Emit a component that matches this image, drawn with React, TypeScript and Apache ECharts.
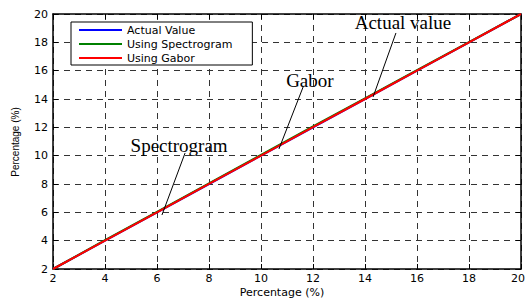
import React, { useEffect, useRef } from "react";
import * as echarts from "echarts";

const percentages = [2, 4, 6, 8, 10, 12, 14, 16, 18, 20];
const actualValue = [2, 4, 6, 8, 10, 12, 14, 16, 18, 20];
const usingSpectrogram = [2, 4.03, 6.04, 8.05, 10.06, 12.06, 14.05, 16.04, 18.02, 20];
const usingGabor = [2, 4, 6, 8.01, 10, 12.01, 14, 16, 18, 20];

const seriesNames = ["Actual Value", "Using Spectrogram", "Using Gabor"];
const seriesColors = ["#0000ff", "#008000", "#ff0000"];

const xTitle = "Percentage (%)";
const yTitle = "Percentage (%)";

// annotations in data coordinates: label, text position, leader start, leader end
const annotations = [
  { label: "Spectrogram", text: [6.85, 10.75], from: [7.08, 10.19], to: [6.19, 5.81] },
  { label: "Gabor", text: [11.88, 15.34], from: [11.62, 14.85], to: [10.69, 10.47] },
  { label: "Actual value", text: [15.46, 19.43], from: [15.19, 18.66], to: [14.31, 14.14] },
];

const FONT = "DejaVu Sans";

export default function App() {
  const ref = useRef<HTMLDivElement>(null);
  useEffect(() => {
    if (!ref.current) return;
    const chart = echarts.init(ref.current, undefined, { renderer: "svg" });
    const seriesData = [actualValue, usingSpectrogram, usingGabor];
    const axisCommon = {
      type: "value" as const,
      min: 2,
      max: 20,
      interval: 2,
      axisLine: { show: true, onZero: false, lineStyle: { color: "#000", width: 1.5 } },
      axisTick: { show: true, inside: true, length: 5, lineStyle: { color: "#000", width: 1 } },
    };
    chart.setOption({
      animation: false,
      backgroundColor: "#fff",
      grid: { left: 53, right: 5, top: 14, bottom: 32, containLabel: false, outerBoundsMode: "none" },
      legend: {
        data: seriesNames,
        orient: "vertical",
        left: 71,
        top: 22,
        padding: [1, 20, 0, 8],
        itemGap: 0,
        itemWidth: 43,
        itemHeight: 2,
        icon: "rect",
        borderColor: "#000",
        borderWidth: 1,
        backgroundColor: "#fff",
        textStyle: { fontFamily: FONT, fontSize: 11, color: "#000", lineHeight: 14 },
      },
      xAxis: [
        {
          ...axisCommon,
          position: "bottom",
          axisLabel: {
            fontFamily: FONT,
            fontSize: 11,
            color: "#000",
            margin: 4,
            formatter: (v: number) => (v === 20 ? `{last|${v}}` : `${v}`),
            rich: {
              last: { fontFamily: FONT, fontSize: 11, color: "#000", padding: [0, 6, 0, 0] },
            },
          },
          splitLine: { show: true, lineStyle: { color: "#333", width: 1, type: [6, 5] } },
        },
        {
          ...axisCommon,
          position: "top",
          axisLabel: { show: false },
          splitLine: { show: false },
        },
      ],
      yAxis: [
        {
          ...axisCommon,
          position: "left",
          axisLabel: { fontFamily: FONT, fontSize: 11, color: "#000", margin: 5 },
          splitLine: { show: true, lineStyle: { color: "#333", width: 1, type: [6, 5] } },
        },
        {
          ...axisCommon,
          position: "right",
          axisLabel: { show: false },
          splitLine: { show: false },
        },
      ],
      series: seriesNames.map((name, i) => ({
        name,
        type: "line",
        xAxisIndex: 0,
        yAxisIndex: 0,
        showSymbol: false,
        symbol: "none",
        color: seriesColors[i],
        lineStyle: { color: seriesColors[i], width: 2 },
        data: percentages.map((p, j) => [p, seriesData[i][j]]),
        z: 3 + i,
      })),
    });

    const toPx = (pt: number[]) =>
      chart.convertToPixel({ xAxisIndex: 0, yAxisIndex: 0 }, pt) as number[];
    const graphics: any[] = [];
    annotations.forEach((a) => {
      const t = toPx(a.text);
      const f = toPx(a.from);
      const e = toPx(a.to);
      graphics.push({
        type: "line",
        z: 20,
        shape: { x1: f[0], y1: f[1], x2: e[0], y2: e[1] },
        style: { stroke: "#000", lineWidth: 1 },
      });
      graphics.push({
        type: "text",
        z: 21,
        x: t[0],
        y: t[1],
        style: {
          text: a.label,
          fontFamily: "Liberation Serif",
          fontSize: 19,
          fill: "#000",
          textAlign: "center",
          textVerticalAlign: "middle",
        },
      });
    });
    graphics.push({
      type: "text",
      x: 282,
      y: 292,
      style: {
        text: xTitle,
        fontFamily: FONT,
        fontSize: 11,
        fill: "#000",
        textAlign: "center",
        textVerticalAlign: "middle",
      },
    });
    graphics.push({
      type: "text",
      x: 15,
      y: 142,
      rotation: Math.PI / 2,
      style: {
        text: yTitle,
        fontFamily: "Liberation Sans",
        fontSize: 10,
        fill: "#000",
        textAlign: "center",
        textVerticalAlign: "middle",
      },
    });
    chart.setOption({ graphic: graphics });
    return () => chart.dispose();
  }, []);
  return (
    <div
      ref={ref}
      style={{ position: "fixed", left: 0, top: 0, width: 526, height: 301 }}
    />
  );
}
